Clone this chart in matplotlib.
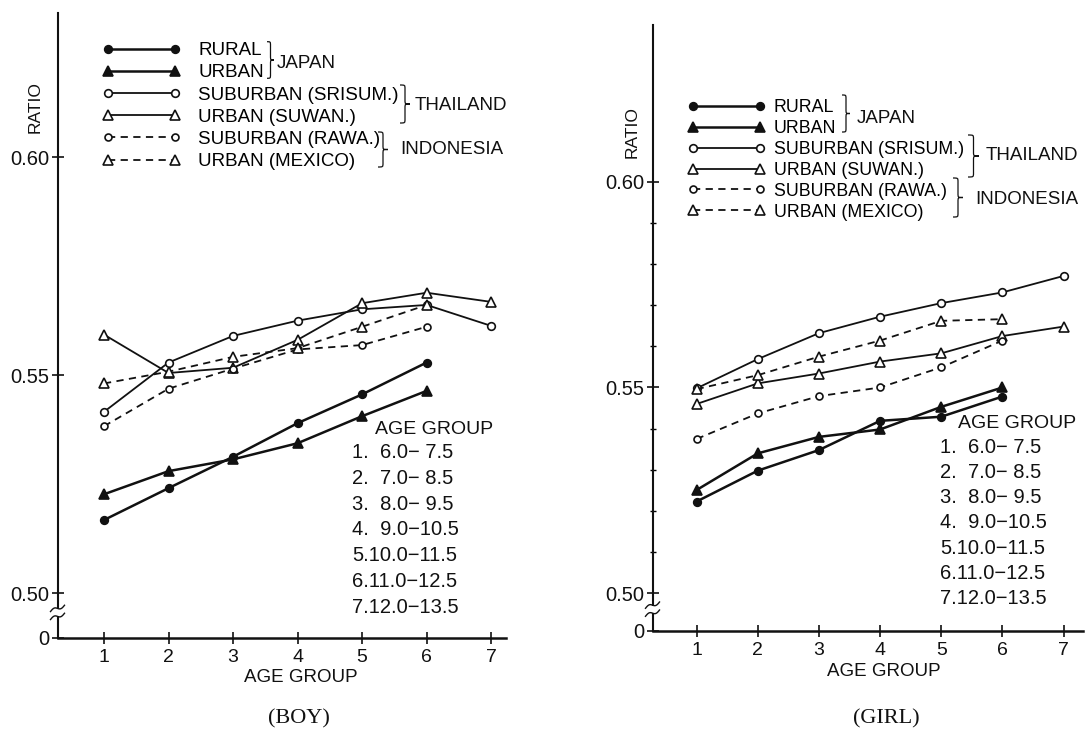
import matplotlib
matplotlib.use("Agg")
import matplotlib.pyplot as plt
from matplotlib.path import Path
from matplotlib.patches import PathPatch, Rectangle
from matplotlib.lines import Line2D
import numpy as np

# ---------------- data ----------------
age_groups = [1, 2, 3, 4, 5, 6, 7]
series_labels = ["RURAL", "URBAN", "SUBURBAN (SRISUM.)", "URBAN (SUWAN.)",
                 "SUBURBAN (RAWA.)", "URBAN (MEXICO)"]
age_ranges = ["1.  6.0− 7.5", "2.  7.0− 8.5", "3.  8.0− 9.5", "4.  9.0−10.5",
              "5.10.0−11.5", "6.11.0−12.5", "7.12.0−13.5"]
y_tick_values = [0.50, 0.55, 0.60]
y_tick_labels = ["0.50", "0.55", "0.60"]

boy_rural_japan = [0.5168, 0.5241, 0.5313, 0.5390, 0.5456, 0.5529]
boy_urban_japan = [0.5227, 0.5280, 0.5307, 0.5344, 0.5406, 0.5464]
boy_suburban_srisum = [0.5416, 0.5529, 0.5590, 0.5625, 0.5651, 0.5661, 0.5613]
boy_urban_suwan = [0.5593, 0.5505, 0.5517, 0.5581, 0.5665, 0.5689, 0.5668]
boy_suburban_rawa = [0.5383, 0.5469, 0.5515, 0.5559, 0.5569, 0.5611]
boy_urban_mexico = [0.5481, 0.5508, 0.5542, 0.5562, 0.5611, 0.5661]

girl_rural_japan = [0.5223, 0.5298, 0.5348, 0.5419, 0.5429, 0.5478]
girl_urban_japan = [0.5251, 0.5340, 0.5380, 0.5398, 0.5453, 0.5500]
girl_suburban_srisum = [0.5498, 0.5569, 0.5632, 0.5672, 0.5705, 0.5731, 0.5771]
girl_urban_suwan = [0.5460, 0.5510, 0.5534, 0.5563, 0.5583, 0.5625, 0.5648]
girl_suburban_rawa = [0.5375, 0.5437, 0.5479, 0.5500, 0.5549, 0.5614]
girl_urban_mexico = [0.5496, 0.5530, 0.5575, 0.5614, 0.5662, 0.5666]

# ---------------- styling ----------------
W, H, DPI = 1085, 729, 100
plt.rcParams['font.family'] = ['Liberation Sans', 'DejaVu Sans']
INK = '#111111'

styles = [
    dict(marker='o', mfc=INK, ms=5.5, ls='-', lw=1.8),
    dict(marker='^', mfc=INK, ms=6.5, ls='-', lw=1.8),
    dict(marker='o', mfc='white', ms=5.5, ls='-', lw=1.3),
    dict(marker='^', mfc='white', ms=7, ls='-', lw=1.3),
    dict(marker='o', mfc='white', ms=5, ls=(0, (4, 3)), lw=1.3),
    dict(marker='^', mfc='white', ms=7, ls=(0, (4, 3)), lw=1.3),
]

fig = plt.figure(figsize=(W / DPI, H / DPI), dpi=DPI)
fig.patch.set_facecolor('white')


def fx(x):
    return x / W


def fy(y):
    return 1 - y / H


def axes_px(left, right, top, bottom):
    return fig.add_axes([fx(left), fy(bottom), (right - left) / W, (bottom - top) / H])


def brace(x0, x1, yt, yb):
    xm = (x0 + x1) / 2.0
    ym = (yt + yb) / 2.0
    q = min(4.0, (yb - yt) / 5.0)
    pts = [(x0, yt), (xm, yt), (xm, yt), (xm, yt + q),
           (xm, ym - q),
           (xm, ym), (xm, ym), (x1, ym),
           (xm, ym), (xm, ym), (xm, ym + q),
           (xm, yb - q),
           (xm, yb), (xm, yb), (x0, yb)]
    codes = [Path.MOVETO, Path.CURVE4, Path.CURVE4, Path.CURVE4,
             Path.LINETO,
             Path.CURVE4, Path.CURVE4, Path.CURVE4,
             Path.CURVE4, Path.CURVE4, Path.CURVE4,
             Path.LINETO,
             Path.CURVE4, Path.CURVE4, Path.CURVE4]
    verts = [(fx(a), fy(b)) for a, b in pts]
    fig.add_artist(PathPatch(Path(verts, codes), transform=fig.transFigure,
                             fill=False, ec=INK, lw=0.9, zorder=6))


def axis_break(x, y):
    fig.add_artist(Rectangle((fx(x - 4), fy(y + 3.5)), 8 / W, 7 / H,
                             transform=fig.transFigure, fc='white', ec='none', zorder=5))
    dx = np.linspace(-7, 7, 30)
    for y0 in (y - 4, y + 4):
        yy = y0 - 0.45 * dx + 1.8 * np.sin(np.pi * dx / 7)
        fig.add_artist(Line2D(fx(x + dx), fy(yy), transform=fig.transFigure,
                              color=INK, lw=1.0, zorder=6))


def panel(geom, xlim, ylim, minor, data, legend_geom, braces, countries,
          age_geom, ratio_pos, xlabel_pos):
    left, right, top, bottom = geom
    ax = axes_px(left, right, top, bottom)
    ax.set_xlim(*xlim)
    ax.set_ylim(*ylim)
    for s in ('top', 'right'):
        ax.spines[s].set_visible(False)
    ax.spines['left'].set_linewidth(1.5)
    ax.spines['bottom'].set_linewidth(1.8)
    ax.spines['left'].set_color(INK)
    ax.spines['bottom'].set_color(INK)
    ax.set_facecolor('none')

    ax.set_xticks(age_groups)
    ax.set_xticklabels([str(a) for a in age_groups])
    ax.set_yticks([ylim[0]] + y_tick_values)
    ax.set_yticklabels(["0"] + y_tick_labels)
    if minor:
        ax.set_yticks([v / 100 for v in range(51, 60) if v != 55], minor=True)
    ax.tick_params(axis='y', which='major', direction='inout', length=8, width=1.2,
                   pad=2, labelsize=14.5, colors=INK)
    ax.tick_params(axis='y', which='minor', direction='inout', length=5, width=1.0)
    ax.tick_params(axis='x', which='major', direction='inout', length=8, width=1.2,
                   pad=4, labelsize=14, colors=INK)

    handles = []
    for vals, st in zip(data, styles):
        ln, = ax.plot(age_groups[:len(vals)], vals, color=INK, marker=st['marker'],
                      mfc=st['mfc'], mec=INK, mew=1.2, ms=st['ms'],
                      linestyle=st['ls'], lw=st['lw'], clip_on=False, zorder=3)
        handles.append(ln)

    lg_left, lg_top, textpad, lspace, lsize = legend_geom
    ax.legend(handles, series_labels, loc='upper left',
              bbox_to_anchor=(fx(lg_left), fy(lg_top)), bbox_transform=fig.transFigure,
              frameon=False, borderpad=0, borderaxespad=0, handlelength=4.18 * 13.5 / lsize,
              handletextpad=textpad, labelspacing=lspace, numpoints=2,
              prop=dict(family=['Liberation Sans', 'DejaVu Sans'], size=lsize))

    for b in braces:
        brace(*b)
    for name, x, y in countries:
        fig.text(fx(x), fy(y), name, ha='left', va='center', fontsize=13.5, color=INK)

    ag_x, ag_y, ln_x, ln_y0, ln_dy = age_geom
    fig.text(fx(ag_x), fy(ag_y), "AGE GROUP", ha='left', va='center', fontsize=14, color=INK)
    for i, t in enumerate(age_ranges):
        fig.text(fx(ln_x), fy(ln_y0 + i * ln_dy), t, ha='left', va='center',
                 fontsize=14.5, color=INK)

    rx, ry = ratio_pos
    fig.text(fx(rx), fy(ry), "RATIO", rotation=90, ha='center', va='center',
             fontsize=12.5, color=INK)
    lx, ly = xlabel_pos
    fig.text(fx(lx), fy(ly), "AGE GROUP", ha='center', va='center', fontsize=13.5, color=INK)
    axis_break(left, bottom - (bottom - 593.3) / 2 - 3)
    return ax


# BOY panel
panel(geom=(57.5, 506, 13, 637.5), xlim=(0.279, 7.23), ylim=(0.48986, 0.63303), minor=False,
      data=[boy_rural_japan, boy_urban_japan, boy_suburban_srisum, boy_urban_suwan,
            boy_suburban_rawa, boy_urban_mexico],
      legend_geom=(102.4, 42.0, 0.92, 0.27, 13.5),
      braces=[(267, 274, 41.7, 78.3), (400, 410, 85, 123), (378, 388, 132, 167)],
      countries=[("JAPAN", 277, 63.3), ("THAILAND", 415, 106), ("INDONESIA", 400.7, 150)],
      age_geom=(375, 429, 352, 452.5, 25.8),
      ratio_pos=(35, 107), xlabel_pos=(301, 678))

# GIRL panel
panel(geom=(652.5, 1082.5, 25, 631), xlim=(0.278, 7.31), ylim=(0.49084, 0.63807), minor=True,
      data=[girl_rural_japan, girl_urban_japan, girl_suburban_srisum, girl_urban_suwan,
            girl_suburban_rawa, girl_urban_mexico],
      legend_geom=(687.4, 99.0, 0.44, 0.22, 12.8),
      braces=[(842, 850, 95, 132), (968, 979, 135, 177), (953, 963, 178, 217)],
      countries=[("JAPAN", 856.7, 118.3), ("THAILAND", 986, 155), ("INDONESIA", 975, 200)],
      age_geom=(958.3, 424, 940, 447.3, 25.2),
      ratio_pos=(631.7, 132), xlabel_pos=(884, 672))

fig.text(fx(299), fy(719), "(BOY)", ha='center', va='center', fontsize=16,
         family=['Liberation Serif', 'DejaVu Serif'], color=INK)
fig.text(fx(886), fy(719), "(GIRL)", ha='center', va='center', fontsize=16,
         family=['Liberation Serif', 'DejaVu Serif'], color=INK)

fig.savefig("out.png", dpi=DPI, facecolor='white')
